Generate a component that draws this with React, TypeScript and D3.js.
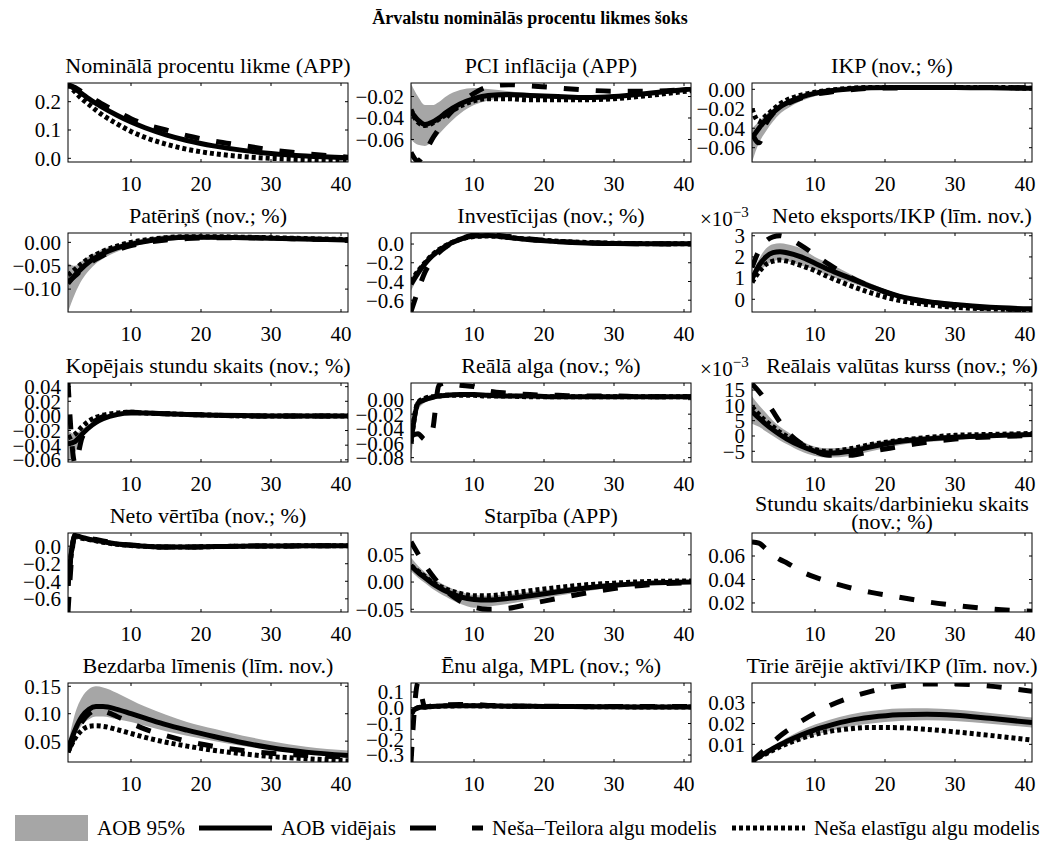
import React from 'react';
import * as d3 from 'd3';

// periods of the impulse responses
const periods = [1, 2, 3, 4, 5, 6, 8, 10, 12, 15, 18, 22, 26, 30, 35, 41];

// Nominālā procentu likme
const rateMean = [0.26, 0.245, 0.228, 0.21, 0.194, 0.179, 0.152, 0.128, 0.108, 0.083, 0.063, 0.043, 0.028, 0.017, 0.008, 0.002];
const rateLo = [0.255, 0.239, 0.222, 0.204, 0.188, 0.173, 0.146, 0.122, 0.102, 0.077, 0.058, 0.039, 0.025, 0.014, 0.006, 0.0];
const rateHi = [0.265, 0.251, 0.234, 0.216, 0.2, 0.185, 0.158, 0.134, 0.114, 0.089, 0.068, 0.047, 0.032, 0.02, 0.011, 0.004];
const rateNT = [0.26, 0.25, 0.235, 0.22, 0.205, 0.19, 0.165, 0.14, 0.12, 0.1, 0.08, 0.06, 0.045, 0.03, 0.016, 0.004];
const rateNE = [0.26, 0.235, 0.21, 0.19, 0.17, 0.152, 0.122, 0.095, 0.074, 0.05, 0.032, 0.016, 0.006, 0.0, -0.005, -0.008];

// PCI inflācija
const infMean = [-0.034, -0.042, -0.046, -0.044, -0.04, -0.035, -0.027, -0.022, -0.019, -0.018, -0.019, -0.02, -0.021, -0.02, -0.017, -0.013];
const infLo = [-0.06, -0.065, -0.066, -0.062, -0.055, -0.048, -0.036, -0.028, -0.024, -0.021, -0.021, -0.022, -0.023, -0.022, -0.019, -0.015];
const infHi = [-0.008, -0.02, -0.028, -0.028, -0.025, -0.02, -0.014, -0.012, -0.013, -0.015, -0.017, -0.018, -0.019, -0.018, -0.015, -0.011];
const infNT = [-0.072, -0.08, -0.072, -0.06, -0.05, -0.04, -0.027, -0.017, -0.011, -0.009, -0.01, -0.012, -0.014, -0.015, -0.015, -0.013];
const infNE = [-0.032, -0.044, -0.047, -0.045, -0.041, -0.037, -0.029, -0.024, -0.022, -0.022, -0.023, -0.023, -0.023, -0.022, -0.019, -0.0145];

// IKP
const gdpMean = [-0.05, -0.04, -0.031, -0.024, -0.018, -0.014, -0.008, -0.004, -0.0015, 0.0005, 0.0015, 0.002, 0.002, 0.002, 0.0015, 0.001];
const gdpLo = [-0.075, -0.055, -0.043, -0.033, -0.025, -0.02, -0.012, -0.007, -0.004, -0.0015, 0.0, 0.0005, 0.0005, 0.0005, 0.0, 0.0];
const gdpHi = [-0.04, -0.033, -0.026, -0.02, -0.015, -0.011, -0.005, -0.002, 0.0005, 0.0025, 0.003, 0.0035, 0.0035, 0.0035, 0.003, 0.002];
const gdpNT = [-0.045, -0.055, -0.035, -0.025, -0.019, -0.015, -0.009, -0.005, -0.003, -0.0005, 0.001, 0.0015, 0.002, 0.002, 0.002, 0.0015];
const gdpNE = [-0.02, -0.033, -0.027, -0.021, -0.015, -0.011, -0.006, -0.003, -0.001, 0.001, 0.002, 0.002, 0.002, 0.002, 0.002, 0.001];

// Patēriņš
const consMean = [-0.088, -0.07, -0.055, -0.042, -0.032, -0.024, -0.012, -0.004, 0.002, 0.008, 0.011, 0.011, 0.01, 0.009, 0.007, 0.005];
const consLo = [-0.149, -0.11, -0.08, -0.06, -0.045, -0.035, -0.02, -0.01, -0.003, 0.003, 0.006, 0.006, 0.005, 0.004, 0.002, 0.0];
const consHi = [-0.045, -0.05, -0.04, -0.03, -0.022, -0.015, -0.005, 0.003, 0.008, 0.015, 0.017, 0.016, 0.015, 0.014, 0.012, 0.01];
const consNT = [-0.085, -0.072, -0.058, -0.046, -0.036, -0.028, -0.016, -0.007, -0.001, 0.005, 0.008, 0.01, 0.01, 0.009, 0.007, 0.005];
const consNE = [-0.07, -0.058, -0.045, -0.034, -0.026, -0.019, -0.008, 0.0, 0.005, 0.01, 0.012, 0.012, 0.011, 0.01, 0.008, 0.006];

// Investīcijas
const invMean = [-0.43, -0.31, -0.21, -0.13, -0.07, -0.02, 0.05, 0.085, 0.09, 0.07, 0.045, 0.025, 0.012, 0.006, 0.003, 0.002];
const invLo = [-0.5, -0.36, -0.25, -0.16, -0.095, -0.04, 0.035, 0.07, 0.077, 0.06, 0.037, 0.018, 0.006, 0.0, -0.003, -0.004];
const invHi = [-0.36, -0.26, -0.17, -0.1, -0.045, 0.0, 0.065, 0.1, 0.103, 0.08, 0.053, 0.032, 0.018, 0.012, 0.009, 0.008];
const invNT = [-0.72, -0.5, -0.3, -0.18, -0.09, -0.03, 0.05, 0.095, 0.1, 0.08, 0.055, 0.03, 0.015, 0.007, 0.003, 0.001];
const invNE = [-0.4, -0.29, -0.2, -0.12, -0.06, -0.015, 0.05, 0.08, 0.085, 0.07, 0.05, 0.03, 0.017, 0.009, 0.004, 0.002];

// Neto eksports/IKP
const nxMean = [0.00095, 0.0016, 0.002, 0.0022, 0.00225, 0.0022, 0.002, 0.0017, 0.0014, 0.001, 0.0006, 0.00015, -0.0001, -0.00025, -0.00038, -0.00045];
const nxLo = [0.00075, 0.0013, 0.0016, 0.0018, 0.00185, 0.0018, 0.0016, 0.0014, 0.0011, 0.0008, 0.00045, 0.00005, -0.0002, -0.00035, -0.00045, -0.0005];
const nxHi = [0.00115, 0.0019, 0.0024, 0.0026, 0.00265, 0.0026, 0.0024, 0.002, 0.0017, 0.0012, 0.00075, 0.00025, 0.0, -0.00015, -0.0003, -0.0004];
const nxNT = [0.0015, 0.0023, 0.00275, 0.00295, 0.003, 0.0029, 0.00255, 0.0021, 0.00165, 0.00105, 0.0006, 0.00012, -0.00015, -0.0003, -0.00042, -0.0005];
const nxNE = [0.0008, 0.0013, 0.00165, 0.0018, 0.00185, 0.0018, 0.0016, 0.00135, 0.00105, 0.00065, 0.0003, -0.00005, -0.00025, -0.00038, -0.00045, -0.0005];

// Kopējais stundu skaits
const hoursMean = [-0.038, -0.035, -0.025, -0.016, -0.009, -0.004, 0.002, 0.004, 0.004, 0.003, 0.002, 0.001, 0.0005, 0.0, 0.0, 0.0];
const hoursLo = [-0.063, -0.05, -0.03, -0.019, -0.011, -0.006, 0.0, 0.002, 0.002, 0.0015, 0.0005, -0.0005, -0.001, -0.001, -0.001, -0.001];
const hoursHi = [-0.02, -0.025, -0.018, -0.012, -0.006, -0.002, 0.004, 0.006, 0.006, 0.0045, 0.0035, 0.0025, 0.002, 0.001, 0.001, 0.001];
const hoursNT = [0.046, -0.065, -0.03, -0.014, -0.006, -0.001, 0.004, 0.005, 0.004, 0.003, 0.002, 0.001, 0.0, 0.0, 0.0, 0.0];
const hoursNE = [-0.03, -0.025, -0.015, -0.007, -0.002, 0.001, 0.004, 0.005, 0.004, 0.003, 0.002, 0.001, 0.0, 0.0, 0.0, 0.0];

// Reālā alga
const wageMean = [-0.058, -0.005, 0.0, 0.003, 0.005, 0.006, 0.007, 0.007, 0.006, 0.005, 0.005, 0.004, 0.004, 0.004, 0.004, 0.004];
const wageLo = [-0.086, -0.015, -0.004, 0.0, 0.003, 0.004, 0.005, 0.005, 0.004, 0.003, 0.003, 0.002, 0.002, 0.002, 0.002, 0.002];
const wageHi = [-0.04, 0.0, 0.003, 0.005, 0.007, 0.008, 0.009, 0.009, 0.008, 0.007, 0.007, 0.006, 0.006, 0.006, 0.006, 0.006];
const wageNT = [-0.05, -0.047, -0.055, -0.045, 0.02, 0.023, 0.02, 0.018, 0.012, 0.009, 0.007, 0.006, 0.005, 0.005, 0.004, 0.004];
const wageNE = [-0.06, -0.004, 0.002, 0.004, 0.005, 0.006, 0.006, 0.006, 0.005, 0.005, 0.004, 0.004, 0.004, 0.004, 0.004, 0.004];

// Reālais valūtas kurss
const rerMean = [0.008, 0.0058, 0.0038, 0.002, 0.0004, -0.001, -0.0033, -0.005, -0.0056, -0.005, -0.0035, -0.0018, -0.001, -0.0004, 0.0001, 0.0005];
const rerLo = [0.004, 0.003, 0.0015, 0.0, -0.0015, -0.0027, -0.005, -0.0065, -0.007, -0.0065, -0.005, -0.003, -0.002, -0.0012, -0.0005, 0.0];
const rerHi = [0.013, 0.01, 0.0075, 0.005, 0.003, 0.0015, -0.0015, -0.0035, -0.004, -0.0037, -0.0023, -0.0008, 0.0, 0.0005, 0.0009, 0.0011];
const rerNT = [0.017, 0.0145, 0.0115, 0.008, 0.0045, 0.0015, -0.0025, -0.005, -0.0063, -0.0063, -0.005, -0.0035, -0.002, -0.001, -0.0003, 0.0001];
const rerNE = [0.0095, 0.007, 0.0048, 0.003, 0.0012, -0.0002, -0.0028, -0.0045, -0.005, -0.0042, -0.0028, -0.0015, -0.0005, 0.0002, 0.0005, 0.0008];

// Neto vērtība
const nwMean = [-0.45, 0.12, 0.1, 0.08, 0.065, 0.05, 0.025, 0.01, 0.0, -0.01, -0.01, -0.005, 0.0, 0.002, 0.004, 0.005];
const nwLo = [-0.6, 0.1, 0.08, 0.062, 0.048, 0.035, 0.012, -0.002, -0.012, -0.02, -0.02, -0.014, -0.008, -0.005, -0.003, -0.002];
const nwHi = [-0.35, 0.14, 0.12, 0.098, 0.082, 0.065, 0.038, 0.022, 0.012, 0.0, 0.0, 0.004, 0.008, 0.009, 0.011, 0.012];
const nwNT = [-0.75, 0.13, 0.11, 0.09, 0.075, 0.06, 0.03, 0.012, 0.0, -0.01, -0.01, -0.005, 0.0, 0.002, 0.004, 0.005];
const nwNE = [-0.45, 0.11, 0.09, 0.075, 0.06, 0.045, 0.022, 0.008, -0.002, -0.01, -0.01, -0.005, 0.0, 0.002, 0.004, 0.005];

// Starpība
const sprMean = [0.03, 0.018, 0.008, -0.002, -0.01, -0.017, -0.027, -0.032, -0.033, -0.03, -0.025, -0.018, -0.011, -0.006, -0.002, 0.0];
const sprLo = [0.02, 0.008, -0.002, -0.012, -0.02, -0.027, -0.04, -0.047, -0.045, -0.04, -0.033, -0.025, -0.017, -0.01, -0.005, -0.002];
const sprHi = [0.045, 0.03, 0.018, 0.008, 0.0, -0.007, -0.018, -0.024, -0.025, -0.022, -0.018, -0.012, -0.006, -0.002, 0.001, 0.002];
const sprNT = [0.074, 0.052, 0.031, 0.013, -0.003, -0.016, -0.035, -0.046, -0.05, -0.048, -0.04, -0.03, -0.02, -0.012, -0.005, -0.001];
const sprNE = [0.03, 0.02, 0.01, 0.0, -0.007, -0.013, -0.021, -0.025, -0.025, -0.021, -0.016, -0.01, -0.005, -0.002, 0.001, 0.002];

// Stundu skaits/darbinieku skaits
const hpwNT = [0.072, 0.071, 0.066, 0.061, 0.057, 0.054, 0.047, 0.042, 0.038, 0.033, 0.029, 0.025, 0.021, 0.018, 0.015, 0.013];

// Bezdarba līmenis
const unMean = [0.035, 0.07, 0.095, 0.108, 0.113, 0.113, 0.108, 0.1, 0.092, 0.08, 0.07, 0.058, 0.047, 0.038, 0.03, 0.024];
const unLo = [0.03, 0.06, 0.08, 0.09, 0.095, 0.095, 0.09, 0.085, 0.078, 0.068, 0.06, 0.05, 0.041, 0.034, 0.027, 0.021];
const unHi = [0.045, 0.1, 0.13, 0.145, 0.15, 0.148, 0.138, 0.125, 0.113, 0.098, 0.085, 0.072, 0.06, 0.05, 0.04, 0.033];
const unNT = [0.03, 0.06, 0.085, 0.1, 0.107, 0.105, 0.095, 0.083, 0.072, 0.06, 0.05, 0.04, 0.033, 0.028, 0.024, 0.021];
const unNE = [0.03, 0.055, 0.07, 0.077, 0.078, 0.077, 0.071, 0.064, 0.057, 0.048, 0.041, 0.033, 0.027, 0.022, 0.018, 0.014];

// Ēnu alga, MPL
const mplMean = [-0.03, 0.0, 0.005, 0.008, 0.01, 0.012, 0.013, 0.013, 0.012, 0.01, 0.009, 0.008, 0.007, 0.006, 0.005, 0.005];
const mplLo = [-0.06, -0.008, -0.003, 0.0, 0.002, 0.004, 0.005, 0.005, 0.004, 0.003, 0.002, 0.001, 0.0, 0.0, 0.0, 0.0];
const mplHi = [-0.01, 0.008, 0.013, 0.016, 0.018, 0.02, 0.021, 0.021, 0.02, 0.018, 0.016, 0.015, 0.014, 0.012, 0.011, 0.01];
const mplNT = [-0.344, 0.157, 0.005, 0.012, 0.015, 0.018, 0.02, 0.02, 0.015, 0.012, 0.01, 0.009, 0.008, 0.008, 0.008, 0.008];
const mplNE = [-0.04, 0.0, 0.005, 0.008, 0.01, 0.011, 0.012, 0.012, 0.011, 0.01, 0.009, 0.008, 0.007, 0.006, 0.005, 0.005];

// Tīrie ārējie aktīvi/IKP
const nfaMean = [0.002, 0.004, 0.006, 0.008, 0.0098, 0.0115, 0.0145, 0.017, 0.019, 0.0215, 0.023, 0.0242, 0.0245, 0.024, 0.0225, 0.0205];
const nfaLo = [0.0017, 0.0035, 0.0052, 0.0069, 0.0084, 0.0098, 0.0123, 0.0145, 0.0163, 0.0186, 0.02, 0.0212, 0.0216, 0.0212, 0.0199, 0.0181];
const nfaHi = [0.0023, 0.0045, 0.0068, 0.0091, 0.0112, 0.0132, 0.0167, 0.0195, 0.0217, 0.0244, 0.026, 0.0272, 0.0274, 0.0268, 0.0251, 0.0229];
const nfaNT = [0.002, 0.005, 0.008, 0.011, 0.014, 0.0165, 0.021, 0.025, 0.0285, 0.0325, 0.0355, 0.038, 0.039, 0.039, 0.038, 0.0355];
const nfaNE = [0.002, 0.0038, 0.0055, 0.0072, 0.0088, 0.0103, 0.0128, 0.0148, 0.0162, 0.0175, 0.0181, 0.018, 0.0172, 0.016, 0.0143, 0.012];

const xTicks = [10, 20, 30, 40];
const legendLabels = ['AOB 95%', 'AOB vidējais', 'Neša–Teilora algu modelis', 'Neša elastīgu algu modelis'];

interface PanelCfg {
  title: string[];
  mean?: number[];
  lo?: number[];
  hi?: number[];
  nt?: number[];
  ne?: number[];
  yDomain: [number, number];
  yTicks: number[];
  fmt: (v: number) => string;
  exp?: boolean;
}

const f2 = d3.format('.2f');
const f1 = d3.format('.1f');
const fMilli = (v: number) => d3.format('d')(Math.round(v * 1000));

const panels: PanelCfg[] = [
  { title: ['Nominālā procentu likme (APP)'], mean: rateMean, lo: rateLo, hi: rateHi, nt: rateNT, ne: rateNE, yDomain: [-0.013, 0.266], yTicks: [0, 0.1, 0.2], fmt: f1 },
  { title: ['PCI inflācija (APP)'], mean: infMean, lo: infLo, hi: infHi, nt: infNT, ne: infNE, yDomain: [-0.081, -0.0074], yTicks: [-0.06, -0.04, -0.02], fmt: f2 },
  { title: ['IKP (nov.; %)'], mean: gdpMean, lo: gdpLo, hi: gdpHi, nt: gdpNT, ne: gdpNE, yDomain: [-0.0747, 0.0065], yTicks: [-0.06, -0.04, -0.02, 0], fmt: f2 },
  { title: ['Patēriņš (nov.; %)'], mean: consMean, lo: consLo, hi: consHi, nt: consNT, ne: consNE, yDomain: [-0.149, 0.02], yTicks: [-0.1, -0.05, 0], fmt: f2 },
  { title: ['Investīcijas (nov.; %)'], mean: invMean, lo: invLo, hi: invHi, nt: invNT, ne: invNE, yDomain: [-0.726, 0.118], yTicks: [-0.6, -0.4, -0.2, 0], fmt: f1 },
  { title: ['Neto eksports/IKP (līm. nov.)'], mean: nxMean, lo: nxLo, hi: nxHi, nt: nxNT, ne: nxNE, yDomain: [-0.0006, 0.00313], yTicks: [0, 0.001, 0.002, 0.003], fmt: fMilli, exp: true },
  { title: ['Kopējais stundu skaits (nov.; %)'], mean: hoursMean, lo: hoursLo, hi: hoursHi, nt: hoursNT, ne: hoursNE, yDomain: [-0.063, 0.045], yTicks: [-0.06, -0.04, -0.02, 0, 0.02, 0.04], fmt: f2 },
  { title: ['Reālā alga (nov.; %)'], mean: wageMean, lo: wageLo, hi: wageHi, nt: wageNT, ne: wageNE, yDomain: [-0.086, 0.023], yTicks: [-0.08, -0.06, -0.04, -0.02, 0], fmt: f2 },
  { title: ['Reālais valūtas kurss (nov.; %)'], mean: rerMean, lo: rerLo, hi: rerHi, nt: rerNT, ne: rerNE, yDomain: [-0.0085, 0.0173], yTicks: [-0.005, 0, 0.005, 0.01, 0.015], fmt: fMilli, exp: true },
  { title: ['Neto vērtība (nov.; %)'], mean: nwMean, lo: nwLo, hi: nwHi, nt: nwNT, ne: nwNE, yDomain: [-0.75, 0.15], yTicks: [-0.6, -0.4, -0.2, 0], fmt: f1 },
  { title: ['Starpība (APP)'], mean: sprMean, lo: sprLo, hi: sprHi, nt: sprNT, ne: sprNE, yDomain: [-0.055, 0.09], yTicks: [-0.05, 0, 0.05], fmt: f2 },
  { title: ['Stundu skaits/darbinieku skaits', '(nov.; %)'], nt: hpwNT, yDomain: [0.0123, 0.0796], yTicks: [0.02, 0.04, 0.06], fmt: f2 },
  { title: ['Bezdarba līmenis (līm. nov.)'], mean: unMean, lo: unLo, hi: unHi, nt: unNT, ne: unNE, yDomain: [0.012, 0.156], yTicks: [0.05, 0.1, 0.15], fmt: f2 },
  { title: ['Ēnu alga, MPL (nov.; %)'], mean: mplMean, lo: mplLo, hi: mplHi, nt: mplNT, ne: mplNE, yDomain: [-0.344, 0.157], yTicks: [-0.3, -0.2, -0.1, 0, 0.1], fmt: f1 },
  { title: ['Tīrie ārējie aktīvi/IKP (līm. nov.)'], mean: nfaMean, lo: nfaLo, hi: nfaHi, nt: nfaNT, ne: nfaNE, yDomain: [0.0015, 0.0395], yTicks: [0.01, 0.02, 0.03], fmt: f2 },
];

const FONT = "'Liberation Serif', 'Times New Roman', Times, serif";
const colLeft = [68, 411, 752];
const plotW = 280;
const plotH = 79;
const BAND = '#a6a6a6';

const Panel: React.FC<{ cfg: PanelCfg; idx: number }> = ({ cfg, idx }) => {
  const col = idx % 3;
  const row = Math.floor(idx / 3);
  const left = colLeft[col];
  const top = 83 + row * 150;
  const x = d3.scaleLinear().domain([1, 41]).range([0, plotW]);
  const y = d3.scaleLinear().domain(cfg.yDomain).range([plotH, 0]);
  const line = (vals: number[]) =>
    d3.line<number>().x((_, i) => x(periods[i])).y(v => y(v)).curve(d3.curveMonotoneX)(vals) || '';
  const area =
    cfg.lo && cfg.hi
      ? d3.area<number>()
          .x((_, i) => x(periods[i]))
          .y0((_, i) => y(cfg.lo![i]))
          .y1((_, i) => y(cfg.hi![i]))
          .curve(d3.curveMonotoneX)(cfg.lo) || ''
      : '';
  const clipId = `clip-${idx}`;
  // titles of panels with an exponent note sit a little to the right
  const cx = plotW / 2 + (cfg.exp ? 10 : 0);
  return (
    <g transform={`translate(${left},${top})`}>
      <defs>
        <clipPath id={clipId}>
          <rect x={0} y={0} width={plotW} height={plotH} />
        </clipPath>
      </defs>
      {cfg.title.length === 1 ? (
        <text x={cx} y={-10} textAnchor="middle" fontSize={22}>{cfg.title[0]}</text>
      ) : (
        <>
          <text x={cx} y={-22} textAnchor="middle" fontSize={22}>{cfg.title[0]}</text>
          <text x={cx} y={-4} textAnchor="middle" fontSize={22}>{cfg.title[1]}</text>
        </>
      )}
      {cfg.exp && (
        <text x={-52} y={-7} fontSize={21}>
          ×10<tspan dy={-9} fontSize={15}>−3</tspan>
        </text>
      )}
      <g clipPath={`url(#${clipId})`}>
        {area && <path d={area} fill={BAND} stroke="none" />}
        {cfg.mean && <path d={line(cfg.mean)} fill="none" stroke="#000" strokeWidth={5} />}
        {cfg.nt && <path d={line(cfg.nt)} fill="none" stroke="#000" strokeWidth={5} strokeDasharray="15,17" />}
        {cfg.ne && <path d={line(cfg.ne)} fill="none" stroke="#000" strokeWidth={5} strokeDasharray="4,3" />}
      </g>
      {/* box with inward ticks */}
      <rect x={0} y={0} width={plotW} height={plotH} fill="none" stroke="#000" strokeWidth={1} />
      {xTicks.map(t => (
        <g key={`x${t}`}>
          <line x1={x(t)} x2={x(t)} y1={plotH} y2={plotH - 3} stroke="#000" />
          <line x1={x(t)} x2={x(t)} y1={0} y2={3} stroke="#000" />
          <text x={x(t)} y={plotH + 29} textAnchor="middle" fontSize={21}>{t}</text>
        </g>
      ))}
      {cfg.yTicks.map(t => (
        <g key={`y${t}`}>
          <line x1={0} x2={3} y1={y(t)} y2={y(t)} stroke="#000" />
          <line x1={plotW} x2={plotW - 3} y1={y(t)} y2={y(t)} stroke="#000" />
          <text x={-7} y={y(t)} dy="0.35em" textAnchor="end" fontSize={21}>{cfg.fmt(t)}</text>
        </g>
      ))}
    </g>
  );
};

const App: React.FC = () => {
  const ly = 828;
  return (
    <svg
      width={1061}
      height={844}
      style={{ position: 'absolute', left: 0, top: 0, background: '#fff', fontFamily: FONT }}
    >
      <style>{`text { font-family: ${FONT}; }`}</style>
      <rect width={1061} height={844} fill="#fff" />
      <text x={530} y={24} textAnchor="middle" fontSize={18} fontWeight="bold">
        Ārvalstu nominālās procentu likmes šoks
      </text>
      {panels.map((p, i) => (
        <Panel key={i} cfg={p} idx={i} />
      ))}
      {/* legend */}
      <g fontSize={21}>
        <rect x={15} y={815} width={73} height={26} fill={BAND} />
        <text x={97} y={ly + 7}>{legendLabels[0]}</text>
        <line x1={199} x2={272} y1={ly} y2={ly} stroke="#000" strokeWidth={5} />
        <text x={281} y={ly + 7}>{legendLabels[1]}</text>
        <line x1={410} x2={483} y1={ly} y2={ly} stroke="#000" strokeWidth={5} strokeDasharray="26,36" />
        <text x={492} y={ly + 7}>{legendLabels[2]}</text>
        <line x1={732} x2={805} y1={ly} y2={ly} stroke="#000" strokeWidth={5} strokeDasharray="4,3" />
        <text x={814} y={ly + 7}>{legendLabels[3]}</text>
      </g>
    </svg>
  );
};

export default App;
